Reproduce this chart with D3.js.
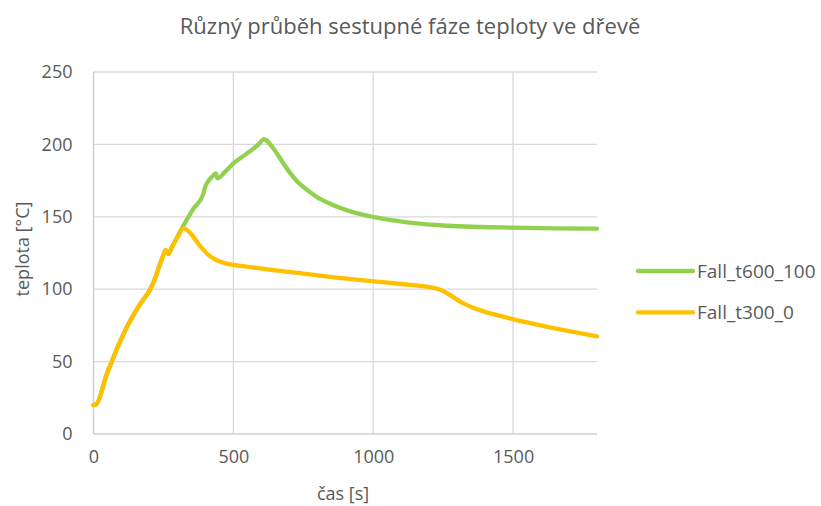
<!DOCTYPE html>
<html>
<head>
<meta charset="utf-8">
<script src="https://cdn.jsdelivr.net/npm/d3@7"></script>
<style>
  html, body { margin: 0; padding: 0; background: #fff; }
  svg { display: block; }
  text { font-family: "Open Sans", "Noto Sans", sans-serif; fill: #595959; }
</style>
</head>
<body>
<svg id="chart" width="821" height="506"></svg>
<script>
// Temperature in wood during the descending phase — two fall scenarios
const title = "Různý průběh sestupné fáze teploty ve dřevě";
const xTitle = "čas [s]";
const yTitle = "teplota [°C]";
const seriesNames = ["Fall_t600_100", "Fall_t300_0"];
const seriesColors = ["#92D050", "#FFC000"];

const xTicks = [0, 500, 1000, 1500];
const yTicks = [0, 50, 100, 150, 200, 250];

// shared heating phase: time [s] and temperature [°C]
const timeHeating = [0, 10, 18, 30, 45, 60, 80, 100, 125, 150, 175, 200, 215, 230, 250, 258, 262, 268, 280, 300];
const tempHeating = [20, 20.5, 23, 30, 40, 47.5, 57, 66, 76, 84.5, 92, 99, 105, 113, 123.5, 127, 125.8, 124.5, 129, 136];

// Fall_t600_100 after the shared phase
const timeFall600 = [316, 355, 392, 398, 410, 424, 437, 443, 470, 501, 549, 590, 609, 620, 640, 660, 680, 700,
  730, 764, 800, 840, 883, 940, 1003, 1080, 1146, 1250, 1326, 1502, 1650, 1800];
const tempFall600 = [142, 155, 165.5, 170, 174.5, 177.7, 180, 176.5, 181, 187, 193.8, 200, 203.7, 202.5, 198, 192.5, 186.5, 181,
  174, 168.5, 163.5, 159.5, 156, 152.5, 149.8, 147.3, 145.6, 144, 143.3, 142.5, 142, 141.8];

// Fall_t300_0 after the shared phase
const timeFall300 = [322, 340, 358, 376, 394, 415, 441, 470, 501, 561, 650, 750, 847, 1003, 1098, 1206, 1242, 1266,
  1290, 1302, 1330, 1360, 1397, 1450, 1502, 1570, 1648, 1720, 1800];
const tempFall300 = [142, 140, 136, 131, 127, 123, 120, 118, 116.8, 115.3, 113, 110.8, 108.5, 105.4, 103.6, 101.3, 99.5, 97,
  94, 92.5, 89.5, 87, 84.5, 81.7, 79.2, 76.2, 73, 70.3, 67.5];

const heating = timeHeating.map((t, i) => [t, tempHeating[i]]);
const series = [
  { name: seriesNames[0], color: seriesColors[0], pts: heating.concat(timeFall600.map((t, i) => [t, tempFall600[i]])) },
  { name: seriesNames[1], color: seriesColors[1], pts: heating.concat(timeFall300.map((t, i) => [t, tempFall300[i]])) }
];

const svg = d3.select("#chart");
const plot = { left: 93.5, right: 597, top: 72, bottom: 434 };

const x = d3.scaleLinear().domain([0, 1800]).range([plot.left, plot.right]);
const y = d3.scaleLinear().domain([0, 250]).range([plot.bottom, plot.top]);

// horizontal gridlines
svg.append("g").selectAll("line").data(yTicks.filter(d => d > 0)).join("line")
  .attr("x1", plot.left).attr("x2", plot.right)
  .attr("y1", d => y(d)).attr("y2", d => y(d))
  .attr("stroke", "#D9D9D9").attr("stroke-width", 1.3);

// vertical gridlines
svg.append("g").selectAll("line").data(xTicks.filter(d => d > 0)).join("line")
  .attr("x1", d => x(d)).attr("x2", d => x(d))
  .attr("y1", plot.top).attr("y2", plot.bottom)
  .attr("stroke", "#D9D9D9").attr("stroke-width", 1.3);

// axes
const xAxis = d3.axisBottom(x).tickValues(xTicks).tickSize(0).tickPadding(16).tickFormat(d3.format("d"));
const yAxis = d3.axisLeft(y).tickValues(yTicks).tickSize(0).tickPadding(21).tickFormat(d3.format("d"));

const gx = svg.append("g").attr("transform", `translate(0,${plot.bottom})`).call(xAxis);
const gy = svg.append("g").attr("transform", `translate(${plot.left},0)`).call(yAxis);
[gx, gy].forEach(g => {
  g.select(".domain").attr("stroke", "#D0D0D0").attr("stroke-width", 1.5);
  g.selectAll("text").style("font-size", "18px").attr("fill", "#595959");
});
gx.select(".domain").attr("d", `M${plot.left},0H${plot.right}`);
gy.select(".domain").attr("d", `M0,${plot.top}V${plot.bottom}`);

// series lines
const line = d3.line().x(d => x(d[0])).y(d => y(d[1])).curve(d3.curveMonotoneX);
svg.append("g").selectAll("path").data(series).join("path")
  .attr("d", d => line(d.pts))
  .attr("fill", "none")
  .attr("stroke", d => d.color)
  .attr("stroke-width", 4.3)
  .attr("stroke-linejoin", "round")
  .attr("stroke-linecap", "round");

// title
svg.append("text").attr("x", 410).attr("y", 34)
  .attr("text-anchor", "middle").style("font-size", "22px").text(title);

// axis titles
svg.append("text").attr("x", 343).attr("y", 500)
  .attr("text-anchor", "middle").style("font-size", "18px").text(xTitle);
svg.append("text").attr("transform", "translate(29,249) rotate(-90)")
  .attr("text-anchor", "middle").style("font-size", "18px").text(yTitle);

// legend
const legend = svg.append("g").selectAll("g").data(series).join("g")
  .attr("transform", (d, i) => `translate(638,${271 + i * 41.3})`);
legend.append("line").attr("x1", 0).attr("x2", 55).attr("y1", 0).attr("y2", 0)
  .attr("stroke", d => d.color).attr("stroke-width", 4.3).attr("stroke-linecap", "round");
legend.append("text").attr("x", 59).attr("y", 0).attr("dy", "0.35em")
  .style("font-size", "19px").text(d => d.name);
</script>
</body>
</html>
